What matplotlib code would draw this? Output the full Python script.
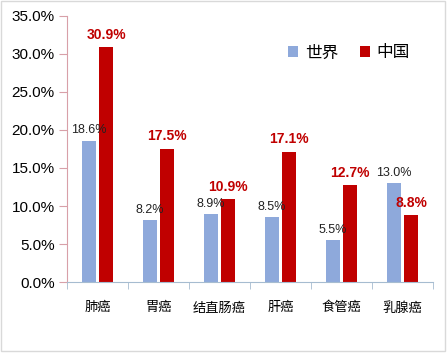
import matplotlib.pyplot as plt
from matplotlib.patches import Rectangle
import numpy as np

plt.rcParams['font.family'] = ['Liberation Sans', 'Noto Sans CJK SC', 'DejaVu Sans']

# cancer types and shares (world vs china)
categories = ['肺癌', '胃癌', '结直肠癌', '肝癌', '食管癌', '乳腺癌']
world = [18.6, 8.2, 8.9, 8.5, 5.5, 13.0]
china = [30.9, 17.5, 10.9, 17.1, 12.7, 8.8]
series_names = ['世界', '中国']
yticks = [0, 5, 10, 15, 20, 25, 30, 35]

blue = '#8EA9DB'
red = '#C00000'

fig = plt.figure(figsize=(4.48, 3.55), dpi=100)
ax = fig.add_axes([0.1496, 0.2056, 0.8169, 0.7494])

x = np.arange(len(categories))
w = 0.22
b1 = ax.bar(x - 0.14, world, w, color=blue, label=series_names[0])
b2 = ax.bar(x + 0.14, china, w, color=red, label=series_names[1])

# data labels
for xi, v in zip(x - 0.14, world):
    ax.annotate(f'{v:.1f}%', (xi, v), xytext=(0, 3), textcoords='offset points',
                ha='center', va='bottom', fontsize=9, color='#222222')
for xi, v in zip(x + 0.14, china):
    ax.annotate(f'{v:.1f}%', (xi, v), xytext=(0, 4), textcoords='offset points',
                ha='center', va='bottom', fontsize=10, fontweight='bold', color=red)

ax.set_xlim(-0.5, len(categories) - 0.5)
ax.set_ylim(0, 35)
ax.set_yticks(yticks)
ax.set_yticklabels([f'{t:.1f}%' for t in yticks], fontsize=11)
ax.set_xticks(x)
ax.set_xticklabels(categories, fontsize=9.5, family=['Noto Sans CJK SC', 'DejaVu Sans'])
ax.set_xticks(np.arange(-0.5, len(categories)), minor=True)
ax.tick_params(axis='x', which='major', length=0, pad=14)
ax.tick_params(axis='x', which='minor', length=5, color='#A6BCD0')
ax.tick_params(axis='y', length=6, color='#D8A0A8', pad=3)

for s in ['top', 'right']:
    ax.spines[s].set_visible(False)
ax.spines['left'].set_color('#D8A0A8')
ax.spines['bottom'].set_color('#A6BCD0')

leg = ax.legend(loc='center left', bbox_to_anchor=(0.605, 0.861), ncol=2, frameon=False,
                borderaxespad=0, borderpad=0,
                prop={'family': ['Noto Sans CJK SC', 'DejaVu Sans'], 'size': 12},
                handlelength=0.6, handleheight=0.6, handletextpad=0.4, columnspacing=1.3)

# light outer border
fig.patches.append(Rectangle((0.002, 0.012), 0.992, 0.984, transform=fig.transFigure,
                             fill=False, edgecolor='#D9D9D9', linewidth=1))

fig.savefig('out.png', dpi=100)
